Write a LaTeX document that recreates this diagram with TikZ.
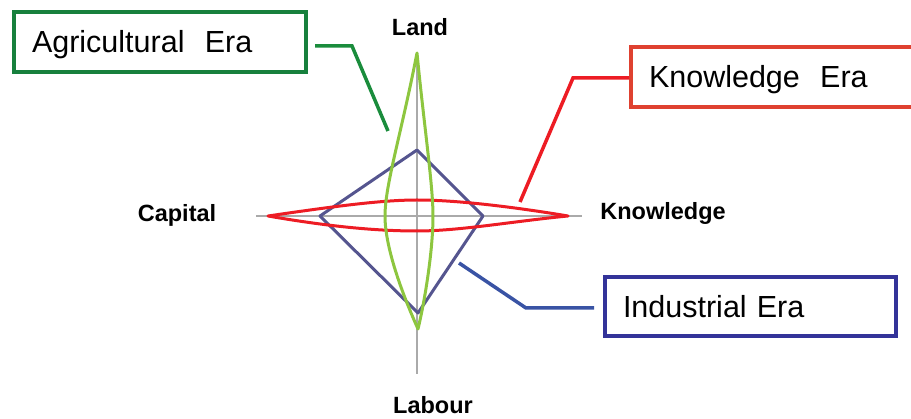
\documentclass[tikz,border=0pt]{standalone}
\usepackage{fontspec}
\setmainfont{Liberation Sans}
\definecolor{axisgrey}{HTML}{AAAAAA}
\definecolor{agrline}{HTML}{8DC63F}
\definecolor{indline}{HTML}{55558F}
\definecolor{knwline}{HTML}{ED1C24}
\definecolor{agrbox}{HTML}{17803D}
\definecolor{agrlead}{HTML}{1A8C3C}
\definecolor{knwbox}{HTML}{DF4130}
\definecolor{indbox}{HTML}{333399}
\definecolor{indlead}{HTML}{3953A4}
\tikzset{
  axislabel/.style={font=\fontsize{23.5}{28}\selectfont\bfseries, inner sep=0pt},
  erabox/.style={draw, line width=4pt, minimum height=60pt, inner xsep=18pt,
    align=left, text height=22pt, text depth=0pt,
    font=\fontsize{30.5}{36}\selectfont},
  leader/.style={line width=3.5pt, line join=miter},
  radar/.style={line width=3pt, line join=round},
}
\begin{document}
\begin{tikzpicture}[x=1pt, y=-1pt]
\useasboundingbox (0,0) rectangle (911,419);

% axes
\coordinate (O) at (417,216);
\draw[axisgrey, line width=2pt] (256,216) -- (582,216);
\draw[axisgrey, line width=2pt] (417,55) -- (417,374);

% axis labels
\node[axislabel] (land) at (420,27) {Land};
\node[axislabel] (capital) at (177,215) {Capital};
\node[axislabel] (knowledge) at (663,213) {Knowledge};
\node[axislabel] (labour) at (433,405) {Labour};

% industrial era profile
\draw[radar, indline] (417,150) -- (483,216) -- (418,313) -- (320,216) -- cycle;

% knowledge era profile
\draw[radar, knwline] (268,216) .. controls (330,207) and (380,200) .. (417,200)
  .. controls (460,200) and (520,208) .. (568,216)
  .. controls (515,221) and (460,231) .. (417,231)
  .. controls (370,231) and (320,225) .. cycle;

% agricultural era profile
\draw[radar, agrline] (417,53) .. controls (401,135) and (385,185) .. (385,216)
  .. controls (385,250) and (405,300) .. (418,329)
  .. controls (425,300) and (433,250) .. (433,216)
  .. controls (433,185) and (424,125) .. cycle;

% era boxes
\node[erabox, draw=agrbox, text width=256pt] (agri) at (160,42) {Agricultural\ \ Era};
\node[erabox, draw=knwbox, text width=280pt, anchor=west] (know) at (629,77) {Knowledge\ \ Era};
\node[erabox, draw=indbox, text width=255pt, minimum height=59pt] (indu) at (750.5,306.5) {Industrial Era};

% leaders
\coordinate (agriA) at (315,46);
\coordinate (agriB) at (352,46);
\coordinate (agriC) at (388,131);
\draw[leader, agrlead] (agriA) -- (agriB) -- (agriC);

\coordinate (knowA) at (know.west |- 0,78);
\coordinate (knowB) at (573,78);
\coordinate (knowC) at (520,202);
\draw[leader, knwline] (knowA) -- (knowB) -- (knowC);

\coordinate (induA) at (594,308);
\coordinate (induB) at (526,308);
\coordinate (induC) at (459,263);
\draw[leader, indlead] (induA) -- (induB) -- (induC);
\end{tikzpicture}
\end{document}
